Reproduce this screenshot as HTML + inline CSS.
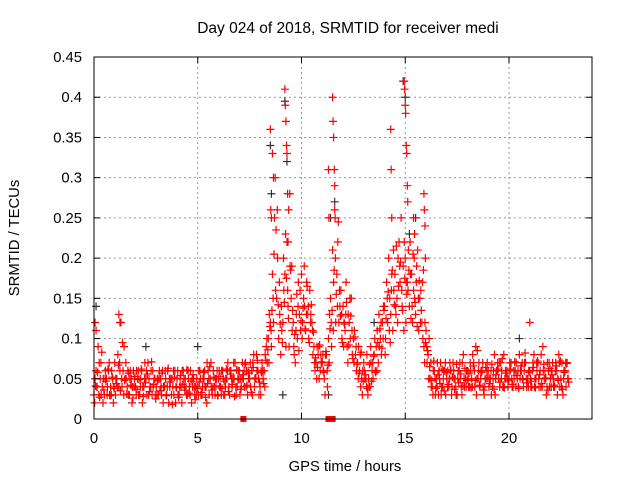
<!DOCTYPE html>
<html><head><meta charset="utf-8"><style>
html,body{margin:0;padding:0;background:#fff;}
svg{display:block;font-family:"Liberation Sans",sans-serif;}
</style></head><body>
<svg id="chart" width="640" height="480" xmlns="http://www.w3.org/2000/svg">
<rect width="640" height="480" fill="#fff"/>
<text x="348" y="33" font-size="15.5" text-anchor="middle" fill="#000">Day 024 of 2018, SRMTID for receiver medi</text>
<g id="grid"></g>
<g id="gray"></g>
<g id="red"></g>
<rect x="94" y="57" width="498" height="362" fill="none" stroke="#000" stroke-width="1"/>
<g id="axes"></g>
<text x="345" y="471" font-size="14.8" text-anchor="middle">GPS time / hours</text>
<text transform="translate(19,238) rotate(-90)" font-size="14.8" text-anchor="middle">SRMTID / TECUs</text>
</svg>
<script>
const xTicks=[0,5,10,15,20];
const yTicks=[0,0.05,0.1,0.15,0.2,0.25,0.3,0.35,0.4,0.45];
const yTickLabels=["0","0.05","0.1","0.15","0.2","0.25","0.3","0.35","0.4","0.45"];
const vA=[.03,.06,.09,.05,.04,.03,.05,.06,.04,.05,.07,.05,.04,.12,.06,.05,.04,.03,.05,.06,.04,.05,.03,.06,.04,.05,.07,.04,.03,.05,.04,.03,.05,.06,.04,.03,.02,.05,.04,.06,.05,.03,.04,.06,.05,.03,.04,.02,.05,.04,.04,.06,.03,.05,.04,.06,.05,.03,.04,.05,.05,.04,.06,.03,.05,.04,.06,.05,.07,.04,.06,.04,.05,.07,.03,.05,.06,.08,.05,.06,.04,.07,.06,.09,.10,.12,.18,.25,.15,.10,.08,.12,.18,.22,.09,.15,.12,.07,.10,.13,.18,.15,.11,.13,.16,.12,.09,.07,.08,.06,.07,.05,.08,.10,.15,.21,.26,.18,.12,.16,.14,.11,.09,.12,.15,.10,.08,.07,.06,.05,.07,.05,.03,.04,.06,.08,.09,.07,.10,.12,.14,.17,.20,.13,.11,.18,.15,.22,.25,.19,.20,.17,.14,.18,.16,.13,.21,.15,.12,.09,.11,.08,.05,.04,.06,.05,.03,.07,.04,.06,.05,.04,.06,.07,.05,.03,.06,.04,.08,.05,.06,.04,.05,.07,.09,.05,.04,.06,.03,.05,.06,.05,.04,.08,.06,.05,.07,.04,.05,.06,.05,.07,.04,.06,.05,.08,.06,.04,.07,.05,.06,.04,.08,.05,.07,.06,.04,.05,.03,.06,.05,.07,.04,.06,.08,.05,.03,.06,.07];
const vB=[.05,.04,.07,.03,.05,.06,.04,.03,.06,.04,.05,.08,.06,.04,.09,.05,.03,.06,.04,.05,.06,.03,.05,.04,.07,.03,.05,.06,.04,.03,.05,.06,.03,.04,.05,.06,.04,.05,.03,.04,.03,.05,.06,.04,.03,.05,.06,.04,.03,.05,.06,.03,.05,.04,.07,.03,.04,.06,.05,.03,.04,.06,.03,.05,.07,.06,.04,.05,.03,.06,.05,.07,.04,.06,.05,.04,.07,.05,.06,.03,.06,.05,.08,.07,.13,.09,.12,.16,.20,.13,.11,.16,.09,.14,.19,.11,.08,.13,.17,.11,.12,.14,.17,.10,.13,.08,.06,.09,.05,.07,.06,.08,.04,.13,.09,.17,.12,.22,.14,.10,.12,.17,.13,.10,.08,.11,.06,.09,.04,.06,.05,.08,.04,.07,.05,.06,.11,.09,.08,.14,.10,.12,.15,.18,.16,.13,.20,.17,.14,.22,.17,.21,.18,.12,.15,.19,.11,.16,.10,.12,.07,.10,.04,.06,.03,.07,.05,.04,.06,.03,.06,.07,.04,.05,.03,.06,.05,.07,.04,.06,.04,.06,.08,.04,.05,.07,.06,.04,.05,.07,.05,.03,.06,.05,.07,.04,.06,.08,.05,.04,.06,.04,.05,.07,.04,.06,.05,.07,.04,.06,.04,.07,.05,.06,.04,.08,.06,.05,.07,.04,.06,.04,.07,.05,.04,.07,.06,.04,.05];
const vC=[.02,.04,.03,.07,.02,.05,.03,.07,.03,.02,.03,.04,.07,.05,.03,.07,.06,.05,.02,.04,.03,.06,.04,.02,.05,.06,.03,.04,.06,.05,.03,.05,.04,.02,.06,.04,.05,.03,.06,.02,.06,.04,.02,.05,.04,.06,.03,.05,.04,.03,.03,.05,.04,.06,.02,.05,.07,.04,.03,.06,.06,.03,.05,.04,.06,.03,.05,.07,.04,.05,.03,.05,.06,.04,.06,.07,.03,.04,.08,.05,.03,.06,.04,.10,.07,.11,.15,.30,.26,.17,.14,.20,.23,.16,.28,.19,.09,.11,.14,.16,.10,.19,.13,.14,.12,.11,.07,.05,.09,.08,.08,.03,.06,.07,.12,.11,.20,.14,.16,.13,.09,.13,.07,.15,.11,.07,.09,.05,.08,.03,.06,.04,.05,.09,.07,.10,.06,.13,.12,.10,.08,.15,.11,.16,.21,.14,.12,.19,.16,.11,.12,.16,.22,.14,.20,.17,.15,.12,.17,.07,.09,.05,.07,.03,.05,.04,.06,.03,.05,.07,.04,.05,.03,.06,.04,.05,.07,.03,.05,.04,.05,.07,.04,.06,.03,.06,.05,.07,.04,.06,.04,.06,.05,.03,.06,.07,.05,.04,.06,.05,.07,.05,.06,.04,.06,.05,.07,.06,.05,.04,.05,.06,.04,.07,.05,.04,.09,.06,.04,.07,.04,.05,.06,.03,.07,.04,.05,.07,.05];
const vD=[.041,.058,.027,.083,.036,.047,.062,.029,.052,.038,.044,.067,.035,.095,.048,.031,.057,.042,.026,.053,.037,.049,.062,.028,.045,.056,.034,.071,.043,.025,.048,.035,.057,.041,.029,.063,.046,.018,.052,.039,.027,.054,.043,.036,.061,.032,.047,.055,.024,.038,.046,.033,.058,.027,.044,.065,.036,.052,.041,.029,.053,.038,.047,.062,.034,.056,.043,.028,.061,.049,.037,.055,.068,.042,.057,.033,.064,.051,.073,.046,.058,.044,.073,.086,.115,.135,.205,.235,.142,.118,.095,.145,.175,.125,.185,.135,.105,.155,.085,.122,.138,.112,.165,.095,.142,.108,.076,.064,.092,.071,.058,.084,.067,.112,.135,.185,.155,.245,.128,.095,.118,.145,.092,.128,.075,.102,.068,.057,.083,.047,.055,.038,.068,.047,.078,.058,.095,.112,.088,.135,.125,.158,.095,.185,.142,.215,.165,.195,.135,.175,.155,.185,.125,.205,.145,.115,.172,.135,.185,.095,.085,.065,.048,.072,.038,.055,.044,.062,.035,.058,.043,.061,.052,.037,.068,.045,.056,.041,.063,.048,.057,.039,.066,.048,.085,.042,.058,.036,.064,.051,.044,.068,.037,.055,.062,.046,.075,.039,.057,.048,.062,.043,.071,.054,.038,.066,.049,.082,.045,.058,.047,.064,.039,.072,.055,.044,.068,.051,.036,.063,.055,.042,.066,.048,.072,.037,.058,.069,.046];
const spikeT=[0.05,0.1,1.2,1.25,8.5,8.52,8.55,8.6,8.65,9.2,9.22,9.25,9.28,9.3,9.33,9.35,9.38,11.3,11.32,11.5,11.52,11.55,11.58,11.6,11.62,14.3,14.32,14.35,14.95,14.97,15.0,15.02,15.05,15.07,15.1,15.12,15.4,15.45,15.9,15.92,15.95,15.97,21.0];
const spikeV=[0.12,0.11,0.13,0.12,0.36,0.26,0.25,0.33,0.30,0.41,0.39,0.37,0.34,0.33,0.28,0.22,0.26,0.31,0.25,0.40,0.37,0.35,0.31,0.29,0.25,0.36,0.31,0.25,0.42,0.41,0.39,0.38,0.34,0.33,0.29,0.27,0.25,0.23,0.28,0.26,0.24,0.20,0.12];
const grayT=[0.1,2.5,5.0,8.5,8.55,9.1,9.2,9.3,11.3,11.4,11.6,13.5,14.9,15.0,15.2,15.5,20.5];
const grayV=[0.14,0.09,0.09,0.34,0.28,0.03,0.395,0.32,0.03,0.25,0.27,0.12,0.42,0.40,0.23,0.25,0.10];
const markT=[7.2,11.3,11.4,11.5];
const dt=0.1, offB=0.05, offC=0.033, offD=0.075;

const NS="http://www.w3.org/2000/svg";
const X0=94,X1=592,Y0=419,Y1=57,XMAX=24,YMAX=0.45;
function sx(t){return X0+(t/XMAX)*(X1-X0);}
function sy(v){return Y0-(v/YMAX)*(Y0-Y1);}
const grid=document.getElementById('grid'),axes=document.getElementById('axes');
function mk(tag,attrs,parent){const e=document.createElementNS(NS,tag);for(const k in attrs)e.setAttribute(k,attrs[k]);parent.appendChild(e);return e;}
xTicks.forEach(t=>{
  const x=sx(t);
  if(t>0){const g=mk('line',{x1:x,x2:x,y1:Y1,y2:Y0,stroke:'#999','stroke-dasharray':'2,3'},grid);
  
  }
  mk('line',{x1:x,x2:x,y1:Y0,y2:Y0-6,stroke:'#000'},axes);
  mk('line',{x1:x,x2:x,y1:Y1,y2:Y1+6,stroke:'#000'},axes);
  const l=mk('text',{x:x,y:Y0+24,'font-size':14.8,'text-anchor':'middle'},axes);
  l.textContent=String(t);
  
  
});
yTicks.forEach((v,i)=>{
  const y=sy(v);
  if(v>0&&v<YMAX){const g=mk('line',{x1:X0,x2:X1,y1:y,y2:y,stroke:'#999','stroke-dasharray':'2,3'},grid);
  
  }
  mk('line',{x1:X0,x2:X0+6,y1:y,y2:y,stroke:'#000'},axes);
  mk('line',{x1:X1,x2:X1-6,y1:y,y2:y,stroke:'#000'},axes);
  const l=mk('text',{x:X0-12,y:y+5,'font-size':14.8,'text-anchor':'end'},axes);
  l.textContent=yTickLabels[i];
  
  
});
function cross(t,v,col,parent){
  const x=sx(t),y=sy(v);
  const p=mk('path',{d:`M${x-4},${y}H${x+4}M${x},${y-4}V${y+4}`,stroke:col,'stroke-width':1.2,fill:'none'},parent);
  
  
}
const gray=document.getElementById('gray'),red=document.getElementById('red');
grayT.forEach((t,i)=>cross(t,grayV[i],'#333',gray));
vA.forEach((v,i)=>cross(i*dt,v,'#f00',red));
vB.forEach((v,i)=>cross(i*dt+offB,v,'#f00',red));
vC.forEach((v,i)=>cross(i*dt+offC,v,'#f00',red));
vD.forEach((v,i)=>cross(i*dt+offD,v,'#f00',red));
spikeT.forEach((t,i)=>cross(t,spikeV[i],'#f00',red));
markT.forEach(t=>{
  const r=mk('rect',{x:sx(t)-3,y:Y0-3,width:6,height:6,fill:'#f00'},red);
  
  
});
</script>
</body></html>
